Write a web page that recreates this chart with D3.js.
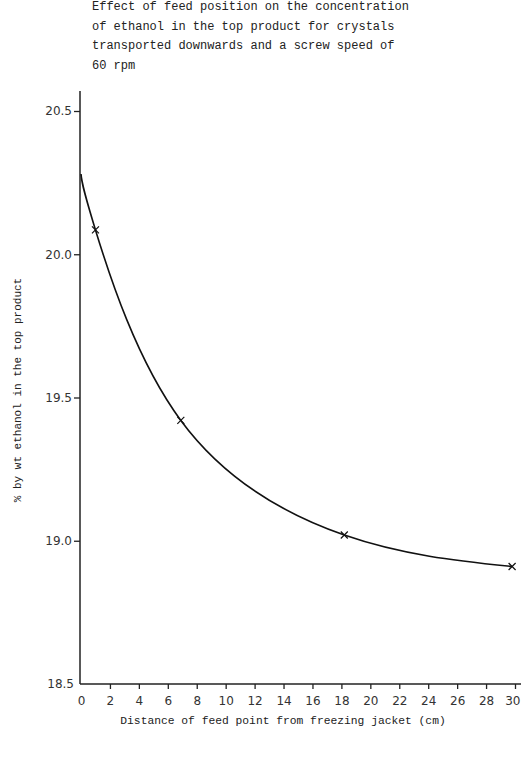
<!DOCTYPE html>
<html>
<head>
<meta charset="utf-8">
<script src="https://cdn.jsdelivr.net/npm/d3@7"></script>
<style>
  body { margin: 0; background: #fff; }
  svg { display: block; }
  .tick-label { font-family: "DejaVu Sans", sans-serif; font-size: 12px; fill: #333; }
  .typed { font-family: "Liberation Mono", monospace; fill: #222; }
</style>
</head>
<body>
<div id="chart"></div>
<script>
// Title lines (typed above the plot)
const titleLines = [
    "Effect of feed position on the concentration",
    "of ethanol in the top product for crystals",
    "transported downwards and a screw speed of",
    "60 rpm"
];

// Measured points (marked with x)
const distance = [1.0, 6.9, 18.2, 29.8];
const ethanol = [20.085, 19.42, 19.02, 18.91];

// Hand-drawn curve: starts on the y axis, then passes through the marked points
const curveStartX = 0;
const curveStartY = 20.28;

const xTicks = [0, 2, 4, 6, 8, 10, 12, 14, 16, 18, 20, 22, 24, 26, 28, 30];
const yTicks = [18.5, 19.0, 19.5, 20.0, 20.5];

const xTitle = "Distance of feed point from freezing jacket (cm)";
const yTitle = "% by wt ethanol in the top product";

// Set up the SVG container
const svgWidth = 521;
const svgHeight = 773;

const svg = d3.select("#chart")
    .append("svg")
    .attr("width", svgWidth)
    .attr("height", svgHeight);

// Scales
const xScale = d3.scaleLinear()
    .domain([0, 30])
    .range([81, 515]);

const yScale = d3.scaleLinear()
    .domain([18.5, 20.5])
    .range([684, 111]);

// Title
svg.append("g")
    .selectAll("text")
    .data(titleLines)
    .enter().append("text")
    .attr("class", "typed")
    .attr("x", 92)
    .attr("y", (d, i) => 10 + i * 19.7)
    .attr("font-size", 12)
    .text(d => d);

// Axis lines (y axis runs a little above the top tick, x axis runs past the edge)
svg.append("line")
    .attr("x1", xScale(0) - 1).attr("x2", xScale(0) - 1)
    .attr("y1", 91).attr("y2", yScale(18.5))
    .attr("stroke", "#222").attr("stroke-width", 1.5);

svg.append("line")
    .attr("x1", xScale(0) - 1).attr("x2", 530)
    .attr("y1", yScale(18.5)).attr("y2", yScale(18.5))
    .attr("stroke", "#222").attr("stroke-width", 1.5);

// x ticks
const xAxis = d3.axisBottom(xScale)
    .tickValues(xTicks)
    .tickSize(5)
    .tickPadding(7)
    .tickFormat(d3.format("d"));

const gx = svg.append("g")
    .attr("transform", `translate(0,${yScale(18.5)})`)
    .call(xAxis);
gx.select(".domain").remove();
gx.selectAll(".tick line").attr("stroke", "#222").attr("stroke-width", 1.3);
gx.selectAll(".tick").filter(d => d === 0).select("line").remove();
gx.selectAll(".tick text").attr("class", "tick-label").attr("font-size", null).attr("font-family", null);
// last label sits at the page edge: keep it inside
gx.selectAll(".tick").filter(d => d === 30).select("text")
    .attr("text-anchor", "end").attr("x", 5);

// y ticks
const yAxis = d3.axisLeft(yScale)
    .tickValues(yTicks)
    .tickSize(6)
    .tickPadding(2)
    .tickFormat(d3.format(".1f"));

const gy = svg.append("g")
    .attr("transform", `translate(${xScale(0) - 1},0)`)
    .call(yAxis);
gy.select(".domain").remove();
gy.selectAll(".tick line").attr("stroke", "#222").attr("stroke-width", 1.3);
gy.selectAll(".tick").filter(d => d === 18.5).select("line").remove();
gy.selectAll(".tick").filter(d => d === 18.5).select("text").attr("x", -6);
gy.selectAll(".tick text").attr("class", "tick-label").attr("font-size", null).attr("font-family", null);

// Axis titles
svg.append("text")
    .attr("class", "typed")
    .attr("x", 283)
    .attr("y", 724)
    .attr("text-anchor", "middle")
    .attr("font-size", 11.3)
    .text(xTitle);

svg.append("text")
    .attr("class", "typed")
    .attr("transform", `translate(21,390) rotate(-90)`)
    .attr("text-anchor", "middle")
    .attr("font-size", 11)
    .text(yTitle);

// Curve
const curveData = [[curveStartX, curveStartY]].concat(distance.map((d, i) => [d, ethanol[i]]));

const line = d3.line()
    .x(d => xScale(d[0]))
    .y(d => yScale(d[1]))
    .curve(d3.curveNatural);

svg.append("path")
    .datum(curveData)
    .attr("d", line)
    .attr("fill", "none")
    .attr("stroke", "#111")
    .attr("stroke-width", 1.6);

// x markers
const s = 3.5;
const marks = svg.append("g")
    .selectAll("g")
    .data(distance.map((d, i) => [d, ethanol[i]]))
    .enter().append("g")
    .attr("transform", d => `translate(${xScale(d[0])},${yScale(d[1])})`);

marks.append("path")
    .attr("d", `M${-s},${-s}L${s},${s}M${-s},${s}L${s},${-s}`)
    .attr("stroke", "#111")
    .attr("stroke-width", 1.2);
</script>
</body>
</html>
